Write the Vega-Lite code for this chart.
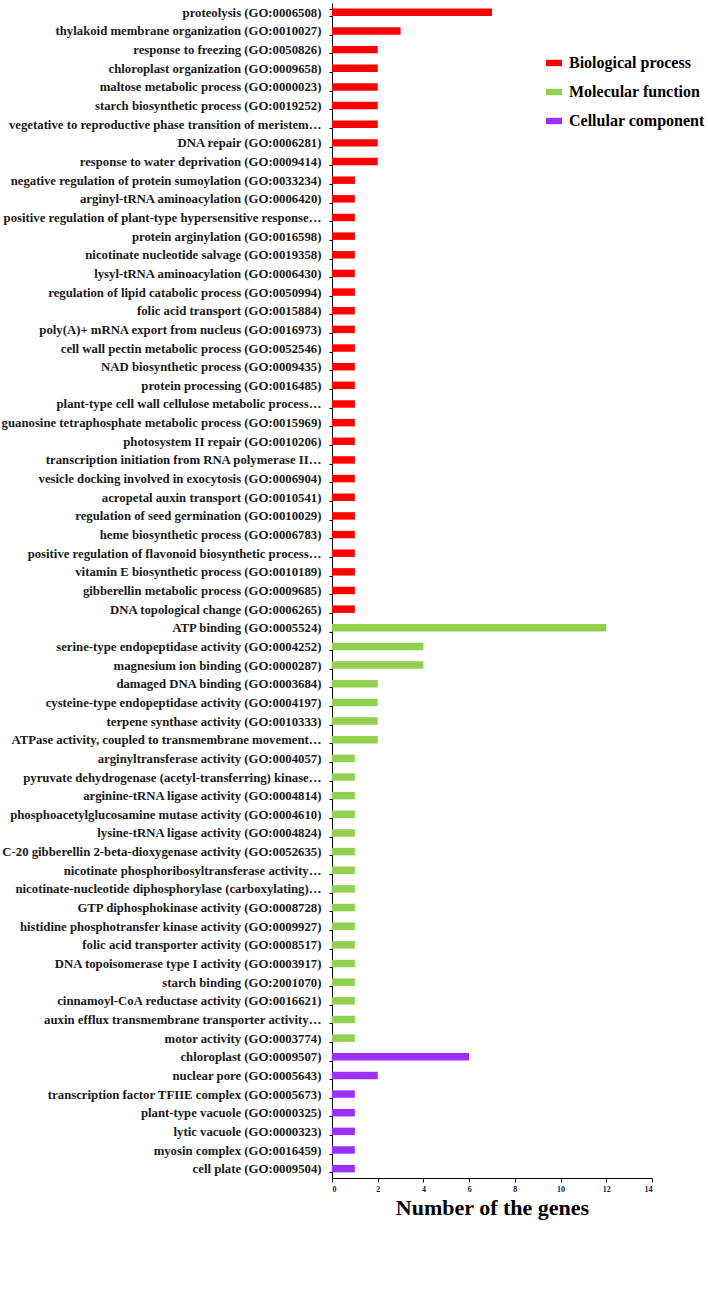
{
  "$schema": "https://vega.github.io/schema/vega-lite/v6.json",
  "width": 320,
  "height": 1175,
  "autosize": "none",
  "padding": {"left": 332, "top": 3, "right": 56, "bottom": 129},
  "background": "white",
  "config": {"view": {"stroke": null}},
  "data": {
    "values": [
      {"term": "proteolysis (GO:0006508)", "category": "Biological process", "genes": 7},
      {"term": "thylakoid membrane organization (GO:0010027)", "category": "Biological process", "genes": 3},
      {"term": "response to freezing (GO:0050826)", "category": "Biological process", "genes": 2},
      {"term": "chloroplast organization (GO:0009658)", "category": "Biological process", "genes": 2},
      {"term": "maltose metabolic process (GO:0000023)", "category": "Biological process", "genes": 2},
      {"term": "starch biosynthetic process (GO:0019252)", "category": "Biological process", "genes": 2},
      {"term": "vegetative to reproductive phase transition of meristem…", "category": "Biological process", "genes": 2},
      {"term": "DNA repair (GO:0006281)", "category": "Biological process", "genes": 2},
      {"term": "response to water deprivation (GO:0009414)", "category": "Biological process", "genes": 2},
      {"term": "negative regulation of protein sumoylation (GO:0033234)", "category": "Biological process", "genes": 1},
      {"term": "arginyl-tRNA aminoacylation (GO:0006420)", "category": "Biological process", "genes": 1},
      {"term": "positive regulation of plant-type hypersensitive response…", "category": "Biological process", "genes": 1},
      {"term": "protein arginylation (GO:0016598)", "category": "Biological process", "genes": 1},
      {"term": "nicotinate nucleotide salvage (GO:0019358)", "category": "Biological process", "genes": 1},
      {"term": "lysyl-tRNA aminoacylation (GO:0006430)", "category": "Biological process", "genes": 1},
      {"term": "regulation of lipid catabolic process (GO:0050994)", "category": "Biological process", "genes": 1},
      {"term": "folic acid transport (GO:0015884)", "category": "Biological process", "genes": 1},
      {"term": "poly(A)+ mRNA export from nucleus (GO:0016973)", "category": "Biological process", "genes": 1},
      {"term": "cell wall pectin metabolic process (GO:0052546)", "category": "Biological process", "genes": 1},
      {"term": "NAD biosynthetic process (GO:0009435)", "category": "Biological process", "genes": 1},
      {"term": "protein processing (GO:0016485)", "category": "Biological process", "genes": 1},
      {"term": "plant-type cell wall cellulose metabolic process…", "category": "Biological process", "genes": 1},
      {"term": "guanosine tetraphosphate metabolic process (GO:0015969)", "category": "Biological process", "genes": 1},
      {"term": "photosystem II repair (GO:0010206)", "category": "Biological process", "genes": 1},
      {"term": "transcription initiation from RNA polymerase II…", "category": "Biological process", "genes": 1},
      {"term": "vesicle docking involved in exocytosis (GO:0006904)", "category": "Biological process", "genes": 1},
      {"term": "acropetal auxin transport (GO:0010541)", "category": "Biological process", "genes": 1},
      {"term": "regulation of seed germination (GO:0010029)", "category": "Biological process", "genes": 1},
      {"term": "heme biosynthetic process (GO:0006783)", "category": "Biological process", "genes": 1},
      {"term": "positive regulation of flavonoid biosynthetic process…", "category": "Biological process", "genes": 1},
      {"term": "vitamin E biosynthetic process (GO:0010189)", "category": "Biological process", "genes": 1},
      {"term": "gibberellin metabolic process (GO:0009685)", "category": "Biological process", "genes": 1},
      {"term": "DNA topological change (GO:0006265)", "category": "Biological process", "genes": 1},
      {"term": "ATP binding (GO:0005524)", "category": "Molecular function", "genes": 12},
      {"term": "serine-type endopeptidase activity (GO:0004252)", "category": "Molecular function", "genes": 4},
      {"term": "magnesium ion binding (GO:0000287)", "category": "Molecular function", "genes": 4},
      {"term": "damaged DNA binding (GO:0003684)", "category": "Molecular function", "genes": 2},
      {"term": "cysteine-type endopeptidase activity (GO:0004197)", "category": "Molecular function", "genes": 2},
      {"term": "terpene synthase activity (GO:0010333)", "category": "Molecular function", "genes": 2},
      {"term": "ATPase activity, coupled to transmembrane movement…", "category": "Molecular function", "genes": 2},
      {"term": "arginyltransferase activity (GO:0004057)", "category": "Molecular function", "genes": 1},
      {"term": "pyruvate dehydrogenase (acetyl-transferring) kinase…", "category": "Molecular function", "genes": 1},
      {"term": "arginine-tRNA ligase activity (GO:0004814)", "category": "Molecular function", "genes": 1},
      {"term": "phosphoacetylglucosamine mutase activity (GO:0004610)", "category": "Molecular function", "genes": 1},
      {"term": "lysine-tRNA ligase activity (GO:0004824)", "category": "Molecular function", "genes": 1},
      {"term": "C-20 gibberellin 2-beta-dioxygenase activity (GO:0052635)", "category": "Molecular function", "genes": 1},
      {"term": "nicotinate phosphoribosyltransferase activity…", "category": "Molecular function", "genes": 1},
      {"term": "nicotinate-nucleotide diphosphorylase (carboxylating)…", "category": "Molecular function", "genes": 1},
      {"term": "GTP diphosphokinase activity (GO:0008728)", "category": "Molecular function", "genes": 1},
      {"term": "histidine phosphotransfer kinase activity (GO:0009927)", "category": "Molecular function", "genes": 1},
      {"term": "folic acid transporter activity (GO:0008517)", "category": "Molecular function", "genes": 1},
      {"term": "DNA topoisomerase type I activity (GO:0003917)", "category": "Molecular function", "genes": 1},
      {"term": "starch binding (GO:2001070)", "category": "Molecular function", "genes": 1},
      {"term": "cinnamoyl-CoA reductase activity (GO:0016621)", "category": "Molecular function", "genes": 1},
      {"term": "auxin efflux transmembrane transporter activity…", "category": "Molecular function", "genes": 1},
      {"term": "motor activity (GO:0003774)", "category": "Molecular function", "genes": 1},
      {"term": "chloroplast (GO:0009507)", "category": "Cellular component", "genes": 6},
      {"term": "nuclear pore (GO:0005643)", "category": "Cellular component", "genes": 2},
      {"term": "transcription factor TFIIE complex (GO:0005673)", "category": "Cellular component", "genes": 1},
      {"term": "plant-type vacuole (GO:0000325)", "category": "Cellular component", "genes": 1},
      {"term": "lytic vacuole (GO:0000323)", "category": "Cellular component", "genes": 1},
      {"term": "myosin complex (GO:0016459)", "category": "Cellular component", "genes": 1},
      {"term": "cell plate (GO:0009504)", "category": "Cellular component", "genes": 1}
    ]
  },
  "mark": {"type": "bar"},
  "encoding": {
    "y": {
      "field": "term",
      "type": "nominal",
      "sort": null,
      "scale": {"paddingInner": 0.6, "paddingOuter": 0.3},
      "axis": {
        "title": null,
        "tickBand": "extent",
        "tickSize": 3,
        "tickColor": "#000000",
        "domainColor": "#000000",
        "labelPadding": 8,
        "labelLimit": 400,
        "labelFont": "Liberation Serif",
        "labelFontWeight": "bold",
        "labelFontSize": 12.75,
        "labelColor": "#1a1a1a",
        "grid": false
      }
    },
    "x": {
      "field": "genes",
      "type": "quantitative",
      "scale": {"domain": [0, 14], "nice": false},
      "axis": {
        "title": "Number of the genes",
        "values": [0, 2, 4, 6, 8, 10, 12, 14],
        "grid": false,
        "tickSize": 4,
        "tickColor": "#000000",
        "domainColor": "#000000",
        "labelFont": "Liberation Serif",
        "labelFontWeight": "bold",
        "labelFontSize": 8,
        "labelColor": "#1a1a1a",
        "labelPadding": 3,
        "titleFont": "Liberation Serif",
        "titleFontWeight": "bold",
        "titleFontSize": 22,
        "titleColor": "#000000",
        "titlePadding": 4
      }
    },
    "color": {
      "field": "category",
      "type": "nominal",
      "scale": {
        "domain": ["Biological process", "Molecular function", "Cellular component"],
        "range": ["#ff0000", "#92d050", "#9b30ff"]
      },
      "legend": {
        "title": null,
        "orient": "none",
        "legendX": 214,
        "legendY": 52,
        "padding": 0,
        "symbolType": "M-1,-0.4H1V0.4H-1Z",
        "symbolSize": 256,
        "symbolStrokeWidth": 0,
        "symbolOpacity": 1,
        "labelFont": "Liberation Serif",
        "labelFontWeight": "bold",
        "labelFontSize": 16,
        "labelColor": "#000000",
        "labelOffset": 7,
        "rowPadding": 13
      }
    }
  }
}
